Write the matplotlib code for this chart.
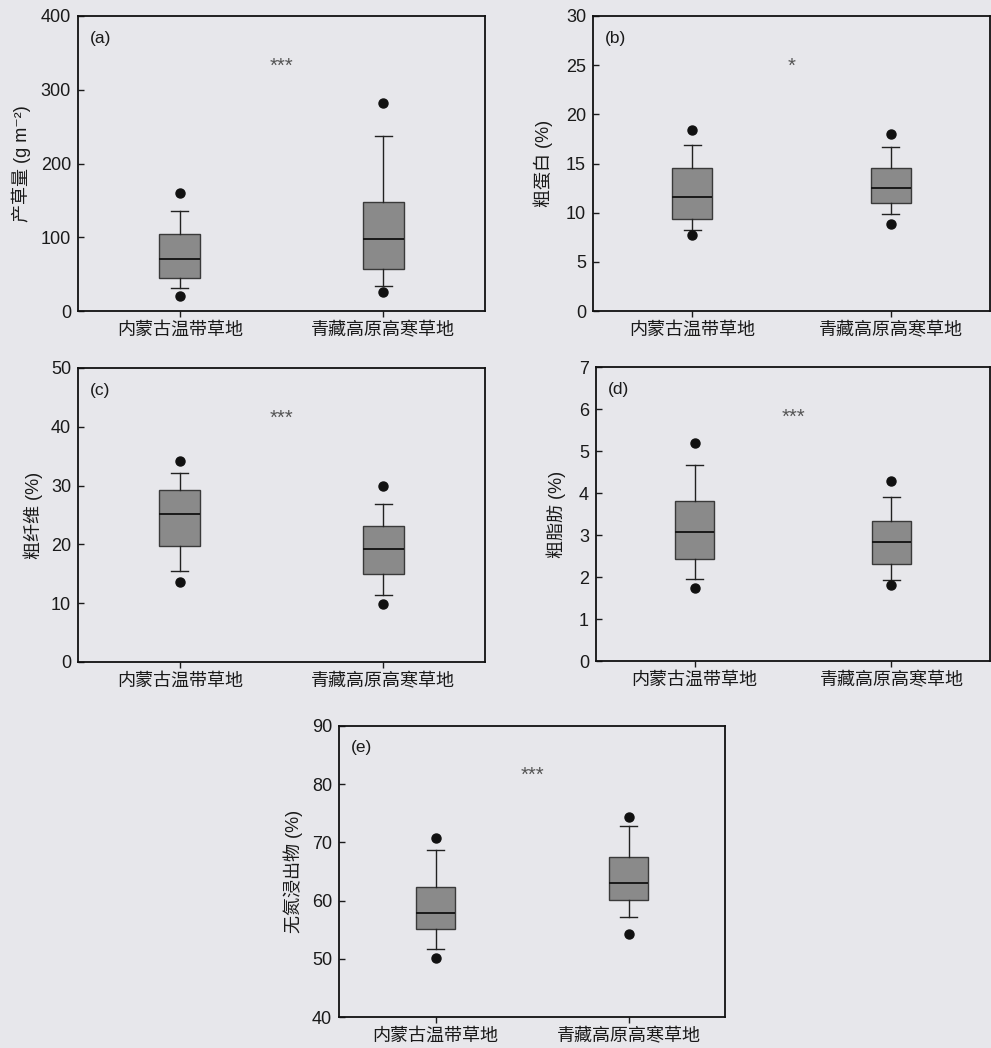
import matplotlib
matplotlib.use("Agg")
import matplotlib.pyplot as plt

plt.rcParams['font.family'] = ['Liberation Sans', 'Noto Sans CJK SC', 'DejaVu Sans']

categories = ['内蒙古温带草地', '青藏高原高寒草地']
panel_labels = ['(a)', '(b)', '(c)', '(d)', '(e)']
y_labels = ['产草量 (g m⁻²)', '粗蛋白 (%)', '粗纤维 (%)', '粗脂肪 (%)', '无氮浸出物 (%)']
signif = ['***', '*', '***', '***', '***']

# summaries per group: [p5 outlier, whisker low, Q1, median, Q3, whisker high, p95 outlier]
yield_im = [20, 30.7, 45, 71, 104, 135.6, 160]
yield_qt = [25.8, 33.4, 56.5, 97.6, 148, 237.7, 282.5]
protein_im = [7.7, 8.2, 9.4, 11.6, 14.5, 16.9, 18.4]
protein_qt = [8.8, 9.9, 10.95, 12.55, 14.5, 16.7, 18.0]
fiber_im = [13.6, 15.5, 19.7, 25.2, 29.25, 32.1, 34.2]
fiber_qt = [9.9, 11.4, 14.9, 19.2, 23.1, 26.8, 30.0]
fat_im = [1.75, 1.96, 2.44, 3.06, 3.82, 4.67, 5.2]
fat_qt = [1.82, 1.92, 2.32, 2.83, 3.33, 3.9, 4.28]
nfe_im = [50.15, 51.75, 55.1, 57.95, 62.4, 68.7, 70.8]
nfe_qt = [54.3, 57.15, 60.1, 63.05, 67.5, 72.8, 74.3]

y_ticks = [[0, 100, 200, 300, 400], [0, 5, 10, 15, 20, 25, 30], [0, 10, 20, 30, 40, 50],
           [0, 1, 2, 3, 4, 5, 6, 7], [40, 50, 60, 70, 80, 90]]

groups = [(yield_im, yield_qt), (protein_im, protein_qt), (fiber_im, fiber_qt),
          (fat_im, fat_qt), (nfe_im, nfe_qt)]

W, H = 991, 1048
# axes rects in pixels: left, top, right, bottom
rects_px = [(78, 16, 485, 311), (593, 16, 990, 311), (78, 368, 485, 662),
            (596, 367, 990, 661), (339, 726, 725, 1017)]
ylabel_x = [-0.1155, -0.1008, -0.086, -0.076, -0.093]

bg = '#e7e7eb'
fig = plt.figure(figsize=(W / 100, H / 100), dpi=100, facecolor=bg)

def to_stats(s):
    return dict(fliers=[s[0], s[6]], whislo=s[1], q1=s[2], med=s[3], q3=s[4], whishi=s[5])

for i in range(5):
    l, t, r, b = rects_px[i]
    ax = fig.add_axes([l / W, 1 - b / H, (r - l) / W, (b - t) / H])
    ax.set_facecolor(bg)
    stats = [to_stats(groups[i][0]), to_stats(groups[i][1])]
    ax.bxp(stats, positions=[1, 2], widths=0.2, capwidths=0.085, patch_artist=True,
           boxprops=dict(facecolor='#8a8a8a', edgecolor='#3a3a3a', linewidth=1.0),
           medianprops=dict(color='#111111', linewidth=1.3),
           whiskerprops=dict(color='#222222', linewidth=1.0),
           capprops=dict(color='#222222', linewidth=1.0),
           flierprops=dict(marker='o', markerfacecolor='#111111', markeredgecolor='#111111',
                           markersize=6.5, linestyle='none'))
    ax.set_xlim(0.5, 2.5)
    ax.set_ylim(y_ticks[i][0], y_ticks[i][-1])
    ax.set_yticks(y_ticks[i])
    ax.set_xticks([1, 2])
    ax.set_xticklabels(categories, fontsize=13, color='#1a1a1a')
    ax.tick_params(axis='y', direction='in', length=4, width=1.0, labelsize=13,
                   pad=5, colors='#1a1a1a')
    ax.tick_params(axis='x', direction='out', length=4, width=1.0, pad=4, colors='#1a1a1a')
    for sp in ax.spines.values():
        sp.set_linewidth(1.3)
        sp.set_color('#111111')
    ax.set_ylabel(y_labels[i], fontsize=13, color='#1a1a1a')
    ax.yaxis.set_label_coords(ylabel_x[i], 0.5)
    ax.text(0.03, 0.925, panel_labels[i], transform=ax.transAxes, ha='left', va='center',
            fontsize=12.5, color='#1a1a1a')
    ax.text(0.5, 0.83, signif[i], transform=ax.transAxes, ha='center', va='center',
            fontsize=14.5, color='#555555')

fig.savefig('out.png', dpi=100, facecolor=bg)
